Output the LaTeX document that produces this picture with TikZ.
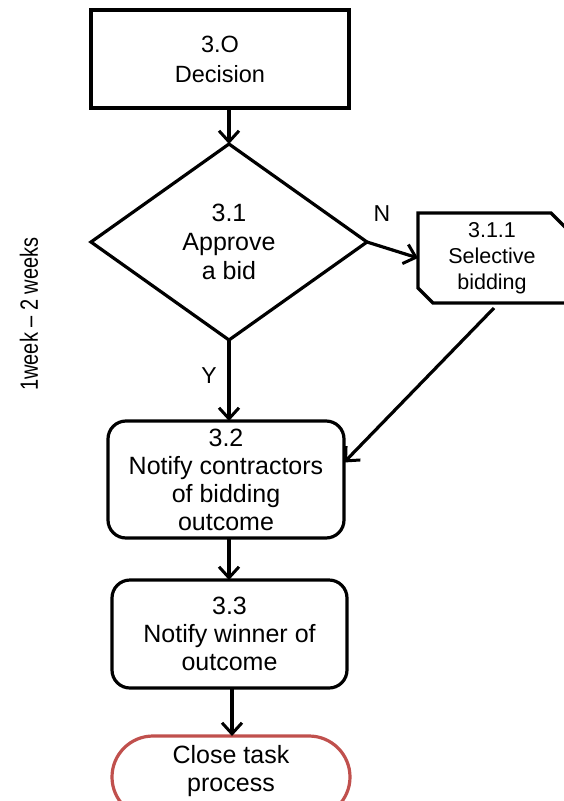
\documentclass[tikz,border=0pt]{standalone}
\usepackage{fontspec}
\setmainfont{Liberation Sans}
\newfontfamily\narrowsans[FakeStretch=0.8]{Liberation Sans}
\usetikzlibrary{arrows.meta,shapes.geometric,calc}
\definecolor{termred}{HTML}{C0504D}
\begin{document}
\begin{tikzpicture}[x=1pt,y=-1pt,
  every node/.style={inner sep=0pt,outer sep=0pt},
  lbl/.style={font=\fontsize{25}{28}\selectfont, align=center},
  procbox/.style={draw, line width=3.2pt, lbl},
  roundbox/.style={procbox, rounded corners=18pt},
  flow/.style={line width=3.2pt, -{Straight Barb[length=11pt,width=20pt,line width=3pt]}},
  edge/.style={line width=3.2pt}
]
\useasboundingbox (0,0) rectangle (564,801);

% 3.0 Decision
\node[procbox, minimum width=258pt, minimum height=98pt, font=\fontsize{23.5}{30}\selectfont]
  (b30) at (220,59) {3.O\\Decision};

% 3.1 decision diamond
\node[draw, line width=3.2pt, diamond, minimum width=276pt, minimum height=196pt,
  font=\fontsize{25}{29}\selectfont, align=center]
  (d31) at (229,242) {3.1\\Approve\\a bid};

% 3.1.1 snipped-corner box
\node[minimum width=148pt, minimum height=90pt, font=\fontsize{21.5}{26}\selectfont, align=center]
  (s311) at (492,258) {3.1.1\\Selective\\bidding};
\draw[edge, line join=miter]
  ($(s311.north west)$) -- ($(s311.north east)+(-15,0)$) -- ($(s311.north east)+(0,15)$)
  -- (s311.south east) -- ($(s311.south west)+(15,0)$) -- ($(s311.south west)+(0,-15)$) -- cycle;

% 3.2 and 3.3 process boxes
\node[roundbox, minimum width=236pt, minimum height=117pt] (b32) at (226,479.5)
  {3.2\\Notify contractors\\of bidding\\outcome};
\node[roundbox, minimum width=235pt, minimum height=108pt] (b33) at (229.5,634)
  {3.3\\Notify winner of\\outcome};

% terminator
\node[draw=termred, line width=3.2pt, rounded corners=41pt, minimum width=238pt,
  minimum height=82pt] (term) at (231,777) {};
\node[lbl] (termtxt) at (231,771) {Close task\\process};

% side label
\node[font=\narrowsans\fontsize{25}{28}\selectfont, rotate=90] (span) at (29,314) {1week – 2 weeks};

% branch labels
\node[font=\fontsize{23}{24}\selectfont] (lN) at (382,214) {N};
\node[font=\fontsize{23}{24}\selectfont] (lY) at (209,376) {Y};

% connectors
\coordinate (c30) at (d31.north |- b30.south);
\draw[flow] (c30) -- (d31.north);
\draw[flow] (d31.east) -- (s311.west);
\coordinate (c311) at (494,308);
\draw[flow] (c311) -- ($(b32.east)+(0,-17)$);
\draw[flow] (d31.south) -- (d31.south |- b32.north);
\coordinate (c32) at (229,538);
\draw[flow] (c32) -- (c32 |- b33.north);
\coordinate (c33) at (232,688);
\draw[flow] (c33) -- (c33 |- term.north);
\end{tikzpicture}
\end{document}
